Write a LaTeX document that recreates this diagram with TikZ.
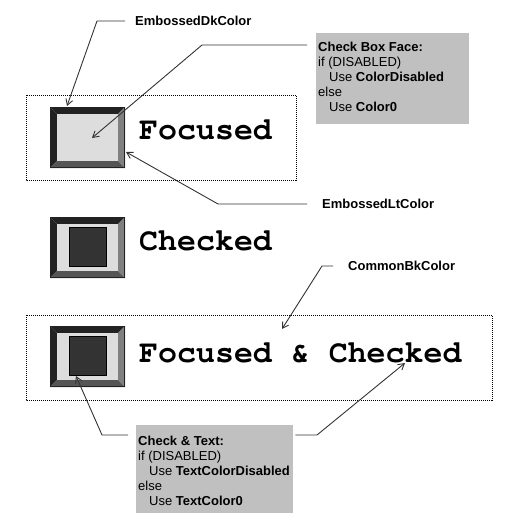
\documentclass[tikz,border=0pt]{standalone}
\usepackage{fontspec}
\setmainfont{Liberation Sans}
\newfontfamily\monob{texgyrecursor}[Extension=.otf, UprightFont=*-regular, BoldFont=*-bold]
\usetikzlibrary{arrows.meta,calc}
\definecolor{lineC}{HTML}{333333}
\definecolor{calloutgray}{HTML}{C0C0C0}
\definecolor{bvdark}{HTML}{222222}
\definecolor{bvright}{HTML}{808080}
\definecolor{bvbottom}{HTML}{555555}
\definecolor{bvface}{HTML}{DDDDDD}
\definecolor{chkfill}{HTML}{333333}
\begin{document}
\begin{tikzpicture}[x=1pt,y=-1pt,
  conn/.style={draw=lineC, line width=0.9pt, -{Straight Barb[length=6pt,width=7pt]}},
  lbl/.style={font=\fontsize{13}{15}\selectfont\bfseries, inner sep=0pt, anchor=west, text=black},
  big/.style={font=\fontsize{31.6}{32}\selectfont\monob\bfseries, inner sep=0pt, anchor=base west, text=black},
  dotbox/.style={draw=black, line width=0.8pt, dash pattern=on 1pt off 1pt},
  callout/.style={fill=calloutgray, inner xsep=2pt, inner ysep=0pt, anchor=north west, font=\fontsize{13}{15}\selectfont},
  cbx/.pic={
    \fill[bvdark] (0,0)--(75,0)--(68,7)--(7,7)--cycle;
    \fill[bvdark] (0,0)--(7,7)--(7,54)--(0,61)--cycle;
    \fill[bvright] (75,0)--(75,61)--(68,54)--(68,7)--cycle;
    \fill[bvbottom] (0,61)--(75,61)--(68,54)--(7,54)--cycle;
    \fill[bvface] (7,7) rectangle (68,54);
    \draw[bvdark, line width=1pt] (0.5,0.5) rectangle (74.5,60.5);
  },
  cbxchk/.pic={
    \pic {cbx};
    \draw[black, fill=chkfill, line width=1pt] (19,10) rectangle (56,49);
  }
]
\useasboundingbox (0,0) rectangle (506,523);

% dotted focus rectangles
\draw[dotbox] (26,95) rectangle (296,180);
\draw[dotbox] (26,315) rectangle (492,400);

% check boxes
\pic (b1) at (50,107) {cbx};
\pic (b2) at (50,217) {cbxchk};
\pic (b3) at (50,326) {cbxchk};

% captions
\node[big] (t1) at (139,139) {Focused};
\node[big] (t2) at (139,250) {Checked};
\node[big] (t3) at (139,362) {Focused \& Checked};

% labels
\node[lbl] (dk) at (135,21) {EmbossedDkColor};
\node[lbl] (lt) at (322,204) {EmbossedLtColor};
\node[lbl] (bk) at (348,266) {CommonBkColor};

% callouts
\node[callout] (cb) at (316,33) {\parbox[c][91pt][t]{149pt}{\rule{0pt}{18pt}\textbf{Check Box Face:}\\
if (DISABLED)\\
\hspace*{11pt}Use \textbf{ColorDisabled}\\
else\\
\hspace*{11pt}Use \textbf{Color0}}};
\node[callout] (ct) at (136,425) {\parbox[c][88pt][t]{153pt}{\rule{0pt}{20pt}\textbf{Check \& Text:}\\
if (DISABLED)\\
\hspace*{11pt}Use \textbf{TextColorDisabled}\\
else\\
\hspace*{11pt}Use \textbf{TextColor0}}};

% bend points and targets
\coordinate (dkA) at (97,21);
\coordinate (dkT) at (67,106);
\coordinate (cbA) at (202,45);
\coordinate (cbT) at (92,138);
\coordinate (ltA) at (218,204);
\coordinate (ltT) at (126,152);
\coordinate (bkA) at (322,266);
\coordinate (bkT) at (282,329);
\coordinate (ctLA) at (102,435);
\coordinate (ctLT) at (76,376);
\coordinate (ctRA) at (317,435);
\coordinate (ctRT) at (405,363);

% connectors
\draw[conn] ($(dk.west)+(-10,0)$) -- (dkA) -- (dkT);
\draw[conn] ($(cb.north west)+(-9,12)$) -- (cbA) -- (cbT);
\draw[conn] ($(lt.west)+(-15,0)$) -- (ltA) -- (ltT);
\draw[conn] ($(bk.west)+(-15,0)$) -- (bkA) -- (bkT);
\draw[conn] ($(ct.north west)+(-8,10)$) -- (ctLA) -- (ctLT);
\draw[conn] ($(ct.north east)+(2,10)$) -- (ctRA) -- (ctRT);
\end{tikzpicture}
\end{document}
